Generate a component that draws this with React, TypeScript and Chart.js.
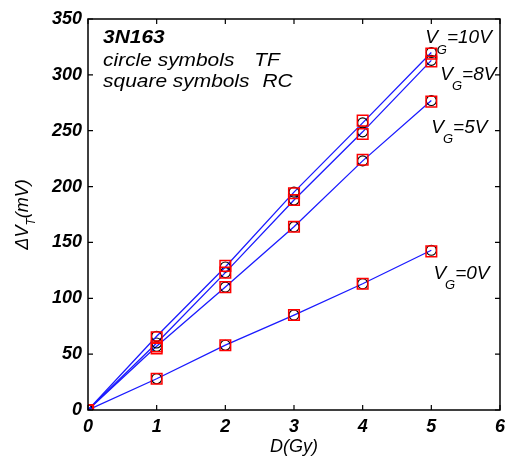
import React, { useEffect, useRef } from "react";
import { Chart, registerables } from "chart.js";

Chart.register(...registerables);

// ---- data ----
const doses = [0, 1, 2, 3, 4, 5];
const tf0 = [0, 28, 58, 85, 113, 143];
const rc0 = [0, 28, 58, 85, 113, 142];
const tf5 = [0, 57, 110, 164, 223, 277];
const rc5 = [0, 55, 110, 164, 224, 276];
const tf8 = [0, 60, 123, 188, 249, 313];
const rc8 = [0, 57, 123, 188, 247, 312];
const tf10 = [0, 66, 128, 195, 257, 320];
const rc10 = [0, 65, 129, 194, 259, 319];
const xTicks = [0, 1, 2, 3, 4, 5, 6];
const yTicks = [0, 50, 100, 150, 200, 250, 300, 350];

const FONT = "'Liberation Sans', Arial, sans-serif";

// annotation texts (anchor given in data coordinates)
const notes = [
  { text: "3N163", x: 0.22, y: 333, bold: true },
  { text: "circle symbols", x: 0.22, y: 313, bold: false },
  { text: "TF", x: 2.42, y: 313, bold: false },
  { text: "square symbols", x: 0.22, y: 294, bold: false },
  { text: "RC", x: 2.54, y: 294, bold: false },
];
const gateLabels = [
  { main: "V", sub: "G", rest: "=10V", x: 4.91, y: 333 },
  { main: "V", sub: "G", rest: "=8V", x: 5.13, y: 300 },
  { main: "V", sub: "G", rest: "=5V", x: 5.0, y: 253 },
  { main: "V", sub: "G", rest: "=0V", x: 5.03, y: 122 },
];

const pts = (ys: number[]) => doses.map((d, i) => ({ x: d, y: ys[i] }));

const lineDs = (label: string, ys: number[]) => ({
  label,
  data: pts(ys),
  showLine: true,
  borderColor: "#1a1aff",
  borderWidth: 1.3,
  pointStyle: "circle",
  pointRadius: 5,
  pointBorderColor: "#000000",
  pointBackgroundColor: "rgba(0,0,0,0)",
  pointBorderWidth: 1.1,
  order: 2,
});
const sqDs = (label: string, ys: number[]) => ({
  label,
  data: pts(ys),
  showLine: false,
  pointStyle: "rect",
  pointRadius: 7.5,
  pointBorderColor: "#ff0000",
  pointBackgroundColor: "rgba(0,0,0,0)",
  pointBorderWidth: 1.5,
  order: 1,
});

const decor = {
  id: "decor",
  afterDraw(chart: any) {
    const ctx = chart.ctx as CanvasRenderingContext2D;
    const { left, right, top, bottom } = chart.chartArea;
    const xs = chart.scales.x;
    const ys = chart.scales.y;
    ctx.save();
    // frame
    ctx.strokeStyle = "#000";
    ctx.lineWidth = 1.5;
    ctx.strokeRect(left, top, right - left, bottom - top);
    // inward ticks
    ctx.lineWidth = 1.2;
    ctx.beginPath();
    xTicks.forEach((v) => {
      const px = xs.getPixelForValue(v);
      ctx.moveTo(px, bottom);
      ctx.lineTo(px, bottom - 5);
      ctx.moveTo(px, top);
      ctx.lineTo(px, top + 5);
    });
    yTicks.forEach((v) => {
      const py = ys.getPixelForValue(v);
      ctx.moveTo(left, py);
      ctx.lineTo(left + 5, py);
      ctx.moveTo(right, py);
      ctx.lineTo(right - 5, py);
    });
    ctx.stroke();

    ctx.fillStyle = "#000";
    ctx.textBaseline = "middle";
    ctx.textAlign = "left";
    // notes
    notes.forEach((n) => {
      const px = xs.getPixelForValue(n.x);
      const py = ys.getPixelForValue(n.y);
      ctx.save();
      ctx.translate(px, py);
      ctx.scale(1.1, 1);
      ctx.font = `italic ${n.bold ? "bold " : ""}19px ${FONT}`;
      ctx.fillText(n.text, 0, 0);
      ctx.restore();
    });
    // gate voltage labels
    gateLabels.forEach((g) => {
      let px = xs.getPixelForValue(g.x);
      const py = ys.getPixelForValue(g.y);
      ctx.font = `italic 19px ${FONT}`;
      ctx.fillText(g.main, px, py);
      px += ctx.measureText(g.main).width;
      ctx.font = `italic 13px ${FONT}`;
      ctx.fillText(g.sub, px - 1, py + 12);
      px += ctx.measureText(g.sub).width - 1;
      ctx.font = `italic 19px ${FONT}`;
      ctx.fillText(g.rest, px, py);
    });
    // y-axis title with subscript
    ctx.save();
    ctx.translate(23, (top + bottom) / 2);
    ctx.rotate(-Math.PI / 2);
    const big = `italic 18px ${FONT}`;
    const small = `italic 12px ${FONT}`;
    ctx.font = big;
    const w1 = ctx.measureText("\u0394V").width;
    const w3 = ctx.measureText("(mV)").width;
    ctx.font = small;
    const w2 = ctx.measureText("T").width;
    let sx = -(w1 + w2 + w3) / 2;
    ctx.font = big;
    ctx.fillText("\u0394V", sx, 0);
    sx += w1;
    ctx.font = small;
    ctx.fillText("T", sx, 9);
    sx += w2;
    ctx.font = big;
    ctx.fillText("(mV)", sx, 0);
    ctx.restore();

    ctx.restore();
  },
};

export default function App() {
  const ref = useRef<HTMLCanvasElement | null>(null);
  useEffect(() => {
    if (!ref.current) return;
    const chart = new Chart(ref.current, {
      type: "scatter",
      data: {
        datasets: [
          sqDs("RC 10V", rc10),
          sqDs("RC 8V", rc8),
          sqDs("RC 5V", rc5),
          sqDs("RC 0V", rc0),
          lineDs("TF 10V", tf10),
          lineDs("TF 8V", tf8),
          lineDs("TF 5V", tf5),
          lineDs("TF 0V", tf0),
        ] as any,
      },
      options: {
        animation: false,
        responsive: true,
        maintainAspectRatio: false,
        layout: { padding: { left: 0, right: 9, top: 19, bottom: 0 } },
        plugins: { legend: { display: false }, tooltip: { enabled: false } },
        scales: {
          x: {
            type: "linear",
            min: xTicks[0],
            max: xTicks[xTicks.length - 1],
            grid: { display: false, drawTicks: false },
            border: { display: false },
            ticks: {
              stepSize: 1,
              padding: 6,
              color: "#000",
              font: { family: FONT, size: 18, style: "italic", weight: "bold" },
            },
            title: {
              display: true,
              text: "D(Gy)",
              color: "#000",
              padding: { top: 0, bottom: 2 },
              font: { family: FONT, size: 18, style: "italic" },
            },
            afterFit(scale: any) {
              scale.height = 50;
            },
          },
          y: {
            type: "linear",
            min: yTicks[0],
            max: yTicks[yTicks.length - 1],
            grid: { display: false, drawTicks: false },
            border: { display: false },
            ticks: {
              stepSize: 50,
              padding: 6,
              color: "#000",
              font: { family: FONT, size: 18, style: "italic", weight: "bold" },
            },
            afterFit(scale: any) {
              scale.width = 88;
            },
          },
        },
      } as any,
      plugins: [decor],
    });
    return () => chart.destroy();
  }, []);
  return (
    <div style={{ position: "fixed", left: 0, top: 0, width: 511, height: 460, background: "#fff" }}>
      <canvas ref={ref} />
    </div>
  );
}
